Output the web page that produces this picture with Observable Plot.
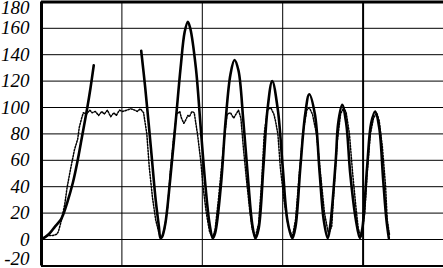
<!DOCTYPE html>
<html>
<head>
<meta charset="utf-8">
<script src="https://cdn.jsdelivr.net/npm/d3@7"></script>
<script src="https://cdn.jsdelivr.net/npm/@observablehq/plot@0.6"></script>
<style>
  html, body { margin: 0; padding: 0; background: #fff; }
  svg { display: block; }
  svg text { font-family: "Liberation Serif", "Times New Roman", serif; font-style: italic; font-synthesis: style weight; }
</style>
</head>
<body>
<div id="chart"></div>
<script>
// y tick labels
const yTicks = [-20, 0, 20, 40, 60, 80, 100, 120, 140, 160, 180];
const yGrid = [0, 20, 40, 60, 80, 100, 120, 140, 160];
const xGrid = [10, 20, 30, 40];

// solid series, first segment
const solidT1 = [0, 0.9, 1.7, 2.4, 2.7, 3.2, 3.9, 4.5, 5.1, 5.7, 6.1, 6.5];
const solidV1 = [0, 4, 10, 15, 19, 28, 43, 60, 80, 100, 115, 132];

// solid series, second segment
const solidT2 = [12.4, 12.9, 13.6, 14.2, 14.6, 14.8, 15.0, 15.4, 16.0, 16.7, 17.3, 17.8, 18.2, 18.5, 19.2, 19.8, 20.4, 20.9, 21.3, 21.6, 22.3, 22.9, 23.5, 24.0, 24.5, 25.1, 25.7, 26.2, 26.6, 27.0, 27.6, 28.1, 28.7, 29.4, 30.0, 30.6, 31.2, 31.6, 32.2, 32.8, 33.3, 34.0, 34.6, 35.1, 35.6, 35.9, 36.6, 36.9, 37.4, 37.9, 38.4, 39.1, 39.6, 39.9, 40.5, 41.0, 41.5, 42.0, 42.5, 42.9, 43.2];
const solidV2 = [143, 115, 70, 30, 10, 1, 2, 12, 45, 90, 130, 157, 165, 160, 130, 85, 40, 12, 1, 5, 40, 90, 125, 136, 128, 90, 45, 12, 1, 8, 55, 98, 120, 98, 55, 14, 1, 10, 55, 95, 110, 95, 50, 15, 1, 10, 60, 88, 102, 88, 50, 15, 1, 8, 55, 88, 97, 85, 45, 15, 1];

// dotted series
const dotT = [0, 0.4, 0.9, 1.4, 1.9, 2.1, 2.5, 2.9, 3.2, 3.6, 3.9, 4.1, 4.5, 4.7, 5.0, 5.2, 5.6, 6.0, 6.3, 6.7, 7.1, 7.5, 7.8, 8.2, 8.6, 9.0, 9.3, 9.7, 10.1, 10.6, 11.1, 11.6, 11.9, 12.3, 12.7, 13.1, 13.4, 13.8, 14.2, 14.6, 14.9, 15.3, 15.7, 16.0, 16.4, 16.8, 17.2, 17.4, 17.7, 17.9, 18.2, 18.4, 18.7, 19.0, 19.4, 19.8, 20.1, 20.5, 20.9, 21.3, 21.6, 22.0, 22.4, 22.8, 23.1, 23.5, 23.9, 24.3, 24.5, 24.8, 25.1, 25.5, 25.9, 26.2, 26.6, 27.0, 27.4, 27.7, 28.1, 28.5, 28.9, 29.1, 29.4, 29.7, 30.2, 30.7, 31.2, 31.6, 32.0, 32.5, 33.0, 33.3, 33.7, 34.2, 34.7, 35.2, 35.7, 36.1, 36.4, 36.8, 37.2, 37.6, 37.9, 38.3, 38.7, 39.1, 39.4, 39.8, 40.2, 40.5, 40.9, 41.3, 41.7, 42.0, 42.4, 42.8, 43.0, 43.3];
const dotV = [0, 2, 3, 3, 4, 6, 15, 27, 40, 53, 62, 68, 76, 85, 92, 96, 95, 98, 96, 97, 94, 97, 95, 98, 93, 96, 94, 98, 97, 98, 99, 98, 97, 99, 96, 80, 55, 32, 15, 5, 1, 8, 25, 50, 75, 95, 97, 92, 88, 90, 94, 93, 97, 96, 80, 60, 40, 20, 6, 1, 8, 30, 55, 80, 95, 96, 92, 96, 98, 92, 70, 45, 22, 8, 2, 12, 45, 80, 98, 100, 95, 90, 80, 55, 28, 10, 2, 15, 45, 80, 98, 100, 95, 80, 50, 20, 4, 10, 40, 75, 95, 100, 96, 80, 50, 25, 8, 2, 20, 50, 80, 92, 96, 90, 70, 40, 15, 3];

const solid1 = solidT1.map((t, i) => ({t, v: solidV1[i]}));
const solid2 = solidT2.map((t, i) => ({t, v: solidV2[i]}));
const dotted = dotT.map((t, i) => ({t, v: dotV[i]}));

const midTicks = yTicks.filter(d => d !== 180 && d !== -20);
const labelOpts = {frameAnchor: "left", textAnchor: "end", dx: -12, fontSize: 19, fontStyle: "italic", fontFamily: "Liberation Serif", fill: "#000"};

const chart = Plot.plot({
  width: 443,
  height: 268,
  marginLeft: 41,
  marginRight: 0,
  marginTop: 1.4,
  marginBottom: 2.6,
  x: {domain: [0, 50], axis: null},
  y: {domain: [-20, 180], axis: null},
  style: {background: "#fff"},
  marks: [
    Plot.ruleY(yGrid, {stroke: "#000", strokeWidth: 1}),
    Plot.ruleX(xGrid.filter(d => d !== 40), {stroke: "#000", strokeWidth: 1}),
    Plot.ruleX([40], {stroke: "#000", strokeWidth: 2}),
    Plot.ruleY([180], {stroke: "#000", strokeWidth: 3}),
    Plot.ruleY([-20], {stroke: "#000", strokeWidth: 2}),
    Plot.ruleX([0], {stroke: "#000", strokeWidth: 3}),
    Plot.line(dotted, {x: "t", y: "v", stroke: "#000", strokeWidth: 1.5, strokeDasharray: "1.5,1.5"}),
    Plot.line(solid1, {x: "t", y: "v", stroke: "#000", strokeWidth: 2.6, curve: "catmull-rom"}),
    Plot.line(solid2, {x: "t", y: "v", stroke: "#000", strokeWidth: 2.6, curve: "catmull-rom"}),
    Plot.text(midTicks, {y: d => d, text: d => String(d), ...labelOpts}),
    Plot.text([180], {y: d => d, text: d => String(d), ...labelOpts, dy: 6}),
    Plot.text([-20], {y: d => d, text: d => String(d), ...labelOpts, dy: -7})
  ]
});
document.getElementById("chart").appendChild(chart);
</script>
</body>
</html>
